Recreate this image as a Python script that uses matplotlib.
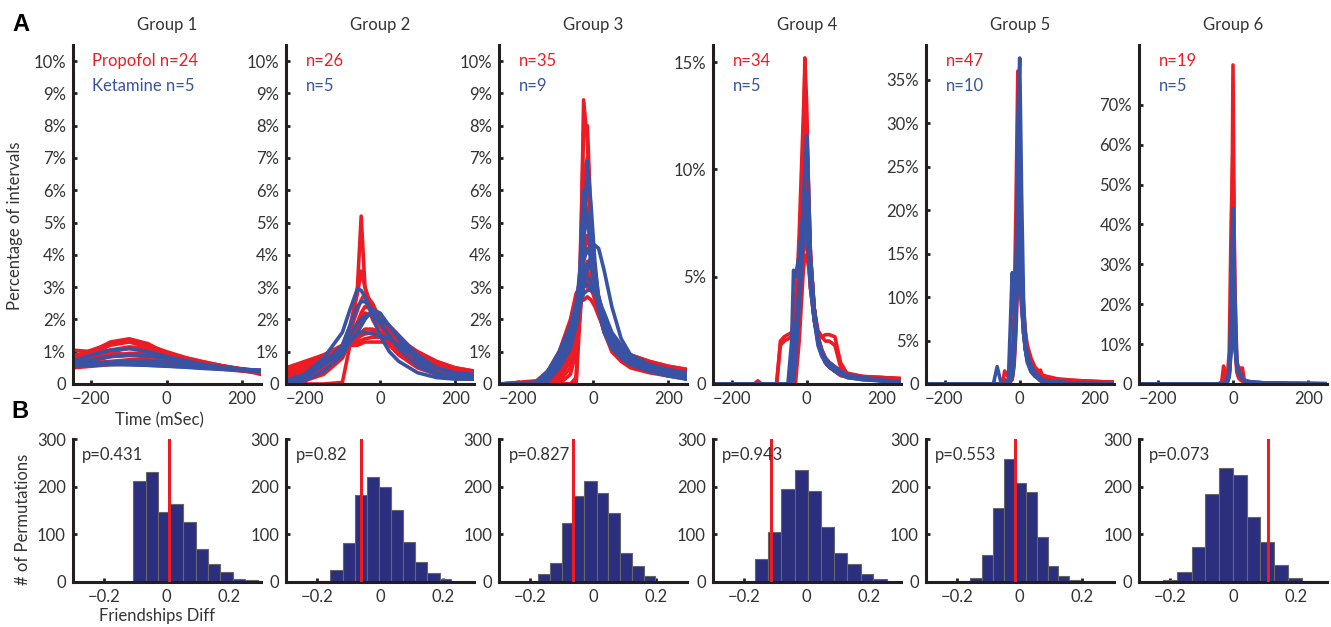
import numpy as np
import matplotlib
matplotlib.use("Agg")
import matplotlib.pyplot as plt
import matplotlib.ticker as ticker

plt.rcParams["font.family"] = ["Lato", "DejaVu Sans"]

RED = "#ED1C24"
BLUE = "#3953A4"
NAVY = "#2B2F7E"
INK = "#231F20"
GREY_TXT = "#333333"

GROUPS = ["Group 1", "Group 2", "Group 3", "Group 4", "Group 5", "Group 6"]
N_PROPOFOL = [24, 26, 35, 34, 47, 19]
N_KETAMINE = [5, 5, 9, 5, 10, 5]
Y_MAX = [10.5, 10.5, 10.5, 15.8, 39, 85]
Y_TICKS = [range(0, 11), range(0, 11), range(0, 11), [0, 5, 10, 15],
           range(0, 36, 5), range(0, 71, 10)]

# --- panel A: interval distributions (percent), time in ms ---
G1_X = [-250, -200, -150, -100, -50, 0, 50, 100, 150, 200, 250]
G1_PROPOFOL = [
    [0.75, 1.00, 1.30, 1.40, 1.25, 0.95, 0.80, 0.65, 0.55, 0.45, 0.40],
    [0.70, 0.95, 1.20, 1.30, 1.15, 0.90, 0.75, 0.62, 0.52, 0.45, 0.38],
    [1.05, 1.00, 0.95, 0.92, 0.88, 0.85, 0.75, 0.65, 0.55, 0.45, 0.35],
    [0.60, 0.80, 1.00, 1.10, 1.05, 0.90, 0.78, 0.65, 0.55, 0.45, 0.35],
    [0.55, 0.70, 0.85, 0.95, 0.95, 0.88, 0.78, 0.66, 0.55, 0.45, 0.30],
    [0.80, 0.85, 0.90, 0.90, 0.88, 0.82, 0.72, 0.62, 0.52, 0.42, 0.32],
    [0.60, 0.65, 0.70, 0.75, 0.75, 0.72, 0.65, 0.58, 0.50, 0.42, 0.35],
    [0.50, 0.55, 0.60, 0.62, 0.62, 0.60, 0.56, 0.52, 0.46, 0.40, 0.35],
    [0.90, 0.95, 1.05, 1.15, 1.10, 0.95, 0.80, 0.68, 0.56, 0.46, 0.38],
    [0.85, 1.05, 1.25, 1.35, 1.20, 1.00, 0.82, 0.68, 0.56, 0.47, 0.40],
    [0.65, 0.75, 0.85, 0.88, 0.85, 0.80, 0.72, 0.62, 0.52, 0.43, 0.36],
]
G1_KETAMINE = [
    [0.70, 0.90, 1.05, 1.10, 1.00, 0.85, 0.72, 0.60, 0.52, 0.45, 0.40],
    [0.65, 0.75, 0.85, 0.90, 0.88, 0.80, 0.70, 0.60, 0.52, 0.46, 0.42],
    [0.60, 0.65, 0.68, 0.70, 0.70, 0.68, 0.62, 0.56, 0.50, 0.45, 0.42],
    [0.62, 0.63, 0.62, 0.60, 0.58, 0.56, 0.53, 0.50, 0.47, 0.45, 0.43],
    [0.55, 0.58, 0.60, 0.60, 0.58, 0.55, 0.52, 0.48, 0.45, 0.42, 0.40],
]

G2_X = [-250, -200, -150, -100, -80, -60, -50, -40, -20, 0, 25, 50, 100, 150, 200, 250]
G2_PROPOFOL = [
    [0.2, 0.4, 0.7, 1.0, 1.5, 3.0, 5.2, 3.0, 2.0, 1.6, 1.2, 0.9, 0.5, 0.3, 0.2, 0.15],
    [0.3, 0.5, 0.8, 1.2, 1.8, 2.8, 3.5, 3.0, 2.3, 1.8, 1.4, 1.0, 0.6, 0.4, 0.3, 0.2],
    [0.1, 0.3, 0.6, 1.0, 1.6, 2.3, 2.6, 2.8, 2.5, 2.0, 1.5, 1.1, 0.6, 0.4, 0.3, 0.2],
    [0.0, 0.0, 0.0, 0.05, 1.2, 1.2, 1.25, 1.3, 1.3, 1.3, 1.3, 1.2, 0.9, 0.6, 0.4, 0.3],
    [0.4, 0.6, 0.9, 1.2, 1.4, 1.7, 1.9, 2.1, 2.2, 2.0, 1.7, 1.3, 0.8, 0.5, 0.35, 0.25],
    [0.3, 0.5, 0.8, 1.1, 1.3, 1.5, 1.6, 1.7, 1.7, 1.6, 1.5, 1.3, 0.9, 0.6, 0.4, 0.3],
    [0.2, 0.4, 0.7, 1.0, 1.2, 1.4, 1.5, 1.55, 1.6, 1.6, 1.5, 1.4, 1.0, 0.7, 0.5, 0.4],
    [0.0, 0.1, 0.3, 0.8, 1.3, 1.9, 2.2, 2.4, 2.3, 2.0, 1.6, 1.2, 0.7, 0.4, 0.25, 0.15],
    [0.5, 0.7, 0.9, 1.1, 1.2, 1.3, 1.35, 1.4, 1.45, 1.45, 1.4, 1.3, 1.0, 0.7, 0.5, 0.4],
    [0.1, 0.2, 0.5, 0.9, 1.3, 1.8, 2.0, 2.2, 2.1, 1.9, 1.8, 1.5, 0.9, 0.5, 0.3, 0.2],
]
G2_KETAMINE = [
    [0.05, 0.3, 0.8, 1.6, 2.3, 2.95, 2.9, 2.7, 2.1, 1.5, 1.0, 0.7, 0.35, 0.2, 0.15, 0.15],
    [0.0, 0.2, 0.6, 1.2, 1.8, 2.4, 2.55, 2.55, 2.3, 1.9, 1.5, 1.1, 0.55, 0.3, 0.2, 0.15],
    [0.1, 0.3, 0.7, 1.1, 1.5, 1.9, 2.0, 2.1, 2.2, 2.0, 1.8, 1.5, 0.9, 0.5, 0.3, 0.2],
    [0.1, 0.3, 0.6, 1.0, 1.3, 1.55, 1.6, 1.6, 1.55, 1.5, 1.4, 1.2, 0.8, 0.5, 0.35, 0.3],
    [0.0, 0.1, 0.4, 0.9, 1.3, 1.6, 1.8, 2.0, 2.3, 2.2, 1.8, 1.4, 0.7, 0.35, 0.2, 0.2],
]

G3_X = [-250, -150, -120, -90, -60, -45, -35, -25, -15, -5, 5, 15, 30, 50, 75, 100, 150, 200, 250]
G3_PROPOFOL = [
    [0, 0, 0, 0, 0, 0, 2.0, 8.8, 7.5, 4.5, 3.0, 2.2, 1.6, 1.1, 0.8, 0.6, 0.4, 0.3, 0.2],
    [0, 0, 0.1, 0.4, 1.0, 1.8, 3.5, 7.8, 8.0, 5.0, 3.2, 2.3, 1.6, 1.1, 0.8, 0.6, 0.4, 0.3, 0.2],
    [0, 0.05, 0.3, 0.8, 1.8, 2.6, 3.2, 3.4, 3.4, 3.2, 2.8, 2.3, 1.7, 1.2, 0.9, 0.7, 0.5, 0.4, 0.3],
    [0, 0, 0, 0, 0, 0, 2.6, 2.6, 2.7, 2.6, 2.4, 2.1, 1.7, 1.3, 1.0, 0.8, 0.5, 0.35, 0.25],
    [0, 0.1, 0.4, 1.0, 2.0, 2.8, 3.0, 3.1, 3.0, 2.9, 2.7, 2.4, 1.9, 1.4, 1.0, 0.8, 0.6, 0.5, 0.4],
    [0, 0, 0.1, 0.3, 0.9, 1.6, 2.5, 4.0, 4.6, 4.0, 3.2, 2.5, 1.8, 1.2, 0.9, 0.7, 0.5, 0.4, 0.3],
    [0, 0, 0, 0.1, 0.5, 1.2, 2.0, 3.4, 3.8, 3.5, 3.0, 2.5, 1.9, 1.4, 1.1, 0.9, 0.6, 0.45, 0.35],
    [0, 0, 0, 0, 0, 0.2, 2.8, 3.3, 3.2, 3.0, 2.6, 2.2, 1.6, 1.0, 0.7, 0.5, 0.35, 0.25, 0.2],
    [0, 0, 0, 0.2, 0.7, 1.5, 2.4, 5.5, 6.2, 5.0, 3.5, 2.5, 1.7, 1.1, 0.8, 0.6, 0.4, 0.3, 0.2],
    [0, 0, 0.05, 0.3, 1.0, 1.8, 2.6, 3.0, 3.2, 3.2, 3.0, 2.7, 2.1, 1.5, 1.1, 0.9, 0.7, 0.55, 0.45],
    [0, 0, 0.2, 0.7, 1.5, 2.4, 3.3, 3.6, 3.5, 3.2, 2.8, 2.4, 1.9, 1.4, 1.1, 0.9, 0.7, 0.55, 0.45],
    [0, 0, 0, 0, 0.3, 1.0, 2.2, 6.5, 7.0, 4.8, 3.3, 2.4, 1.7, 1.2, 1.0, 0.8, 0.6, 0.45, 0.35],
]
G3_KETAMINE = [
    [0, 0, 0.1, 0.5, 1.2, 1.8, 2.5, 4.0, 6.9, 5.5, 3.8, 2.6, 1.8, 1.2, 0.9, 0.7, 0.4, 0.25, 0.15],
    [0, 0, 0.2, 0.6, 1.4, 2.3, 3.5, 6.0, 5.2, 4.0, 3.0, 2.3, 1.6, 1.1, 0.8, 0.6, 0.4, 0.25, 0.15],
    [0, 0.02, 0.3, 0.8, 1.5, 2.2, 3.2, 4.6, 5.2, 4.6, 3.6, 2.7, 1.9, 1.3, 0.9, 0.7, 0.45, 0.3, 0.2],
    [0, 0.05, 0.4, 0.9, 1.6, 2.3, 2.9, 3.4, 3.7, 3.6, 3.2, 2.7, 2.0, 1.4, 1.0, 0.8, 0.5, 0.35, 0.25],
    [0, 0.05, 0.4, 1.0, 1.8, 2.5, 3.0, 3.3, 3.3, 3.2, 3.0, 2.6, 2.0, 1.5, 1.1, 0.8, 0.5, 0.3, 0.2],
    [0, 0, 0.2, 0.6, 1.2, 1.8, 2.4, 3.0, 3.6, 4.0, 4.3, 4.2, 3.5, 2.4, 1.4, 0.9, 0.5, 0.3, 0.2],
    [0, 0.03, 0.3, 0.7, 1.3, 1.9, 2.4, 2.8, 2.9, 2.9, 2.8, 2.6, 2.2, 1.6, 1.2, 0.9, 0.6, 0.4, 0.3],
    [0, 0, 0.2, 0.6, 1.3, 2.0, 2.6, 3.0, 3.1, 3.0, 2.8, 2.5, 2.0, 1.5, 1.1, 0.9, 0.6, 0.45, 0.35],
    [0, 0, 0.1, 0.5, 1.1, 1.9, 2.8, 3.8, 4.2, 3.9, 3.3, 2.6, 1.9, 1.3, 1.0, 0.8, 0.5, 0.35, 0.25],
]

G4_X = [-250, -140, -130, -120, -80, -70, -60, -50, -40, -35, -30, -20, -10, -5, 0,
        5, 10, 20, 30, 40, 50, 60, 75, 90, 110, 150, 200, 250]
G4_PROPOFOL = [
    [0, 0, 0, 0, 0, 0, 0, 0, 0, 0.5, 1.5, 4, 9, 15.2, 13, 9, 6, 3.5, 2, 1.5, 1.0, 0.8, 0.6, 0.4, 0.35, 0.3, 0.25, 0.2],
    [0, 0, 0.15, 0, 0, 2.0, 2.2, 2.3, 2.4, 3, 4, 6, 9, 11, 10, 8, 6, 3.5, 2.2, 1.6, 1.2, 0.9, 0.7, 0.5, 0.4, 0.3, 0.25, 0.2],
    [0, 0, 0, 0, 0, 0, 0, 0, 0, 0.3, 1, 3, 7, 10, 9, 7, 5, 3, 2.2, 2.2, 2.3, 2.3, 2.2, 1.0, 0.4, 0.3, 0.25, 0.2],
    [0, 0, 0, 0, 0, 0, 0, 0, 0.2, 1, 2.5, 5, 8, 9, 8.5, 7, 5.5, 3.5, 2.2, 1.6, 1.2, 1.0, 0.8, 0.6, 0.5, 0.35, 0.3, 0.25],
    [0, 0, 0, 0, 0, 0, 0, 0, 0, 0, 0.5, 3, 6, 7, 6.5, 5.5, 4.5, 3.0, 2.0, 1.4, 1.0, 0.8, 0.6, 0.5, 0.4, 0.3, 0.25, 0.2],
    [0, 0, 0, 0, 0, 0, 0, 0, 0, 0.5, 2, 5, 10, 13, 12, 9, 6, 3.5, 2, 1.4, 1.0, 0.8, 0.6, 0.4, 0.3, 0.25, 0.2, 0.2],
    [0, 0, 0, 0, 0, 1.8, 2.0, 2.1, 2.2, 2.6, 3.5, 5, 7, 8, 7.5, 6, 4.5, 3, 2, 1.5, 1.1, 0.9, 0.7, 0.5, 0.4, 0.3, 0.3, 0.25],
    [0, 0, 0, 0, 0, 0, 0, 0, 0, 0, 0, 2, 5, 6, 6, 5.5, 5, 3.5, 2.5, 2.2, 2.0, 2.0, 1.8, 0.8, 0.4, 0.3, 0.25, 0.2],
    [0, 0, 0, 0, 0, 0, 0, 0, 0, 0.8, 3, 7, 12, 14.5, 12, 8, 5.5, 3.2, 2, 1.5, 1.2, 1.0, 0.8, 0.6, 0.45, 0.35, 0.3, 0.25],
]
G4_KETAMINE = [
    [0, 0, 0, 0, 0, 0, 0, 0, 0, 0.3, 1.5, 4, 8, 10, 11.6, 9, 6, 3.5, 2, 1.4, 1.0, 0.8, 0.6, 0.45, 0.35, 0.25, 0.15, 0.1],
    [0, 0, 0, 0, 0, 0, 0, 0, 2, 5.3, 5.0, 6, 8, 9, 8.5, 7, 5.5, 3.2, 2.0, 1.4, 1.0, 0.8, 0.6, 0.45, 0.3, 0.2, 0.15, 0.1],
    [0, 0, 0, 0, 0, 0, 0, 0, 0, 0.5, 2, 4, 7, 8.5, 8, 7, 5.5, 3.5, 2.2, 1.5, 1.1, 0.9, 0.7, 0.5, 0.35, 0.25, 0.15, 0.1],
    [0, 0, 0, 0, 0, 0, 0, 0, 0.5, 1.8, 2.5, 4.5, 7, 7.8, 7.5, 6.5, 5, 3, 1.8, 1.3, 1.0, 0.8, 0.6, 0.45, 0.3, 0.2, 0.15, 0.1],
    [0, 0, 0, 0, 0, 0, 0, 0, 0, 0.2, 1, 3.5, 6.5, 8, 7.5, 6, 4.5, 3, 2, 1.5, 1.2, 1.0, 0.8, 0.6, 0.4, 0.3, 0.2, 0.1],
]

G5_X = [-250, -70, -60, -50, -45, -40, -30, -20, -15, -10, -5, 0, 5, 10, 15, 20,
        30, 40, 50, 55, 60, 80, 100, 150, 200, 250]
G5_PROPOFOL = [
    [0, 0, 0, 0, 0.2, 1.5, 0.8, 2.5, 8, 20, 36, 22, 14, 8, 5, 3.5, 2.0, 1.3, 0.9, 1.6, 1.0, 0.6, 0.4, 0.3, 0.2, 0.1],
    [0, 0, 0, 0, 0, 0, 0.2, 1, 3, 8, 18, 20, 15, 9, 6, 4, 2.5, 1.5, 1.0, 0.8, 0.7, 0.5, 0.4, 0.3, 0.25, 0.2],
    [0, 0, 0, 0, 0, 0, 0.3, 1.5, 4, 10, 15, 14, 10, 7, 5, 3.5, 2.2, 1.5, 1.1, 0.9, 0.8, 0.6, 0.5, 0.4, 0.3, 0.2],
    [0, 0, 0, 0, 0, 0, 0, 0.5, 2, 6, 12, 13, 11, 8, 6, 4.5, 3, 2, 1.5, 1.2, 1.0, 0.8, 0.6, 0.4, 0.3, 0.2],
    [0, 0, 0, 0, 0, 0.5, 0.3, 1, 3, 9, 22, 25, 12, 6, 4, 3, 2, 1.3, 1.0, 0.8, 0.7, 0.5, 0.4, 0.3, 0.2, 0.15],
]
G5_KETAMINE = [
    [0, 0, 0, 0, 0, 0, 0.2, 1, 4, 10, 30, 37.5, 22, 10, 5, 3, 1.6, 1.0, 0.6, 0.4, 0.3, 0.2, 0.15, 0.1, 0.05, 0],
    [0, 0, 0, 0, 0, 0, 0.5, 12.8, 8, 12, 20, 22, 14, 8, 5, 3, 1.8, 1.1, 0.7, 0.5, 0.4, 0.3, 0.2, 0.1, 0.05, 0],
    [0, 0, 2.0, 0.2, 0, 0, 0.3, 2, 6, 12, 18, 16, 10, 6, 4, 2.8, 1.6, 1.0, 0.6, 0.4, 0.3, 0.2, 0.15, 0.1, 0.05, 0],
    [0, 0, 0, 0, 0, 0, 0.1, 1, 4, 9, 14, 15, 11, 7, 4.5, 3, 1.8, 1.1, 0.7, 0.5, 0.4, 0.3, 0.2, 0.1, 0.05, 0],
    [0, 0, 0, 0, 0, 0, 0.2, 1.5, 5, 11, 15, 14, 9, 6, 4, 2.8, 1.8, 1.2, 0.8, 0.6, 0.4, 0.3, 0.2, 0.1, 0.05, 0],
    [0, 0, 0, 0, 0, 0, 0.1, 0.8, 3, 8, 20, 24, 14, 7, 4, 2.5, 1.4, 0.9, 0.6, 0.4, 0.3, 0.2, 0.15, 0.1, 0.05, 0],
    [0, 0, 0, 0, 0, 0, 0.2, 1.2, 4, 9, 13, 13, 10, 7, 5, 3.5, 2.2, 1.4, 0.9, 0.6, 0.5, 0.3, 0.2, 0.1, 0.05, 0],
    [0, 0, 0, 0, 0, 0, 0.1, 0.6, 2.5, 7, 16, 18, 12, 7, 4.5, 3, 1.8, 1.1, 0.7, 0.5, 0.4, 0.3, 0.2, 0.1, 0.05, 0],
    [0, 0, 0, 0, 0, 0, 0.3, 1.8, 5, 10, 12, 12, 9, 6.5, 4.5, 3.2, 2.0, 1.3, 0.8, 0.6, 0.4, 0.3, 0.2, 0.1, 0.05, 0],
    [0, 0, 0, 0, 0, 0, 0.2, 1, 3.5, 9, 26, 28, 15, 8, 4.5, 2.8, 1.5, 1.0, 0.6, 0.4, 0.3, 0.2, 0.15, 0.1, 0.05, 0],
]

G6_X = [-250, -40, -30, -25, -20, -15, -10, -5, 0, 5, 10, 15, 20, 25, 30, 40, 60, 100, 150, 250]
G6_PROPOFOL = [
    [0, 0, 0, 0, 0, 0.5, 2, 10, 80, 12, 3, 1.5, 1, 0.7, 0.5, 0.4, 0.3, 0.2, 0.15, 0.1],
    [0, 0, 0.5, 4.5, 1.5, 2, 8, 40, 60, 25, 6, 3, 4, 4, 1.0, 0.5, 0.3, 0.2, 0.1, 0.05],
    [0, 0, 0, 0, 0.3, 1, 3, 12, 30, 15, 5, 2.5, 1.5, 1, 0.7, 0.5, 0.3, 0.2, 0.1, 0.05],
    [0, 0, 0, 0.5, 1, 2, 4, 10, 20, 10, 4, 2, 1.2, 0.8, 0.6, 0.4, 0.3, 0.2, 0.1, 0.05],
]
G6_KETAMINE = [
    [0, 0, 0, 0, 0, 0.3, 2, 20, 44, 22, 6, 3, 2, 1.2, 0.8, 0.5, 0.3, 0.2, 0.1, 0.05],
    [0, 0, 0, 0.2, 0.5, 1, 3, 12, 30, 16, 6, 3, 2, 1.3, 0.9, 0.6, 0.4, 0.2, 0.1, 0.05],
    [0, 0, 0, 0, 0.3, 0.8, 3, 10, 22, 12, 5, 3, 2, 1.3, 0.9, 0.6, 0.4, 0.2, 0.1, 0.05],
    [0, 0, 0, 0, 0.2, 0.6, 2, 8, 16, 10, 5, 3, 2, 1.3, 0.9, 0.6, 0.4, 0.2, 0.1, 0.05],
    [0, 0, 0, 0, 0.4, 1, 3, 9, 12, 9, 5, 3.5, 2.5, 1.5, 1.0, 0.7, 0.4, 0.2, 0.1, 0.05],
]

TIME_X = [G1_X, G2_X, G3_X, G4_X, G5_X, G6_X]
PROPOFOL = [G1_PROPOFOL, G2_PROPOFOL, G3_PROPOFOL, G4_PROPOFOL, G5_PROPOFOL, G6_PROPOFOL]
KETAMINE = [G1_KETAMINE, G2_KETAMINE, G3_KETAMINE, G4_KETAMINE, G5_KETAMINE, G6_KETAMINE]

# --- panel B: permutation histograms ---
H1_EDGES = [-0.107, -0.067, -0.029, 0.012, 0.052, 0.092, 0.131, 0.171, 0.210, 0.249, 0.291]
H1_COUNTS = [211, 230, 146, 164, 125, 69, 37, 20, 6, 4]
H2_EDGES = [-0.197, -0.158, -0.119, -0.080, -0.042, -0.003, 0.035, 0.074, 0.112, 0.151, 0.190, 0.226]
H2_COUNTS = [2, 25, 81, 183, 221, 200, 150, 83, 41, 18, 5]
H3_EDGES = [-0.214, -0.177, -0.137, -0.100, -0.063, -0.028, 0.012, 0.049, 0.086, 0.126, 0.163, 0.199]
H3_COUNTS = [2, 16, 40, 124, 181, 211, 186, 144, 60, 34, 11]
H4_EDGES = [-0.205, -0.165, -0.123, -0.081, -0.038, 0.005, 0.047, 0.087, 0.129, 0.172, 0.212, 0.255]
H4_COUNTS = [1, 47, 105, 195, 235, 191, 116, 60, 37, 16, 5]
H5_EDGES = [-0.196, -0.159, -0.121, -0.084, -0.049, -0.015, 0.019, 0.054, 0.089, 0.123, 0.158, 0.193]
H5_COUNTS = [2, 7, 56, 155, 257, 207, 188, 95, 33, 11, 3]
H6_EDGES = [-0.223, -0.178, -0.132, -0.089, -0.045, -0.001, 0.044, 0.086, 0.132, 0.177, 0.221, 0.268]
H6_COUNTS = [3, 20, 72, 185, 240, 224, 135, 84, 35, 7, 1]

HIST_EDGES = [H1_EDGES, H2_EDGES, H3_EDGES, H4_EDGES, H5_EDGES, H6_EDGES]
HIST_COUNTS = [H1_COUNTS, H2_COUNTS, H3_COUNTS, H4_COUNTS, H5_COUNTS, H6_COUNTS]
OBSERVED = [0.008, -0.061, -0.065, -0.115, -0.015, 0.111]
P_VALUES = ["p=0.431", "p=0.82", "p=0.827", "p=0.943", "p=0.553", "p=0.073"]


def style_axes(ax):
    for side in ("top", "right"):
        ax.spines[side].set_visible(False)
    for side in ("left", "bottom"):
        ax.spines[side].set_linewidth(2.2)
        ax.spines[side].set_color(INK)
    ax.tick_params(direction="in", length=3, width=2, color=INK,
                   labelsize=12, labelcolor=GREY_TXT, pad=5)


def pct(v, _pos):
    return "0" if v == 0 else f"{v:g}%"


def plain(v, _pos):
    s = f"{v:g}"
    return s.replace("-", "\u2212")


W, H = 1331, 627
fig = plt.figure(figsize=(W / 100, H / 100), dpi=100)

lefts = [72.7, 286, 499, 712.7, 925.7, 1139]
ax_w = 188

for i in range(6):
    # ---- top row ----
    ax = fig.add_axes([lefts[i] / W, 1 - 384 / H, ax_w / W, 339 / H])
    style_axes(ax)
    for curve in PROPOFOL[i]:
        ax.plot(TIME_X[i], curve, color=RED, lw=2.6, solid_joinstyle="round")
    for curve in KETAMINE[i]:
        ax.plot(TIME_X[i], curve, color=BLUE, lw=2.6, solid_joinstyle="round")
    ax.set_xlim(-250, 250)
    ax.set_ylim(0, Y_MAX[i])
    ax.set_xticks([-200, 0, 200])
    ax.set_yticks(list(Y_TICKS[i]))
    ax.xaxis.set_major_formatter(ticker.FuncFormatter(plain))
    ax.yaxis.set_major_formatter(ticker.FuncFormatter(pct))
    ax.set_title(GROUPS[i], fontsize=12, color=GREY_TXT, pad=11)
    if i == 0:
        top_lbl, bot_lbl = f"Propofol n={N_PROPOFOL[i]}", f"Ketamine n={N_KETAMINE[i]}"
    else:
        top_lbl, bot_lbl = f"n={N_PROPOFOL[i]}", f"n={N_KETAMINE[i]}"
    ax.text(0.105, 0.952, top_lbl, color=RED, fontsize=12,
            transform=ax.transAxes, va="center")
    ax.text(0.105, 0.88, bot_lbl, color=BLUE, fontsize=12,
            transform=ax.transAxes, va="center")

    # ---- bottom row ----
    bx = fig.add_axes([lefts[i] / W, 1 - 581.7 / H, ax_w / W, 142.7 / H])
    style_axes(bx)
    edges = np.array(HIST_EDGES[i])
    bx.bar(edges[:-1], HIST_COUNTS[i], width=np.diff(edges), align="edge",
           color=NAVY, edgecolor="#666666", linewidth=0.8, zorder=2)
    bx.axvline(OBSERVED[i], color=RED, lw=2.2, zorder=3)
    bx.set_xlim(-0.3, 0.3)
    bx.set_ylim(0, 300)
    bx.set_xticks([-0.2, 0, 0.2])
    bx.set_yticks([0, 100, 200, 300])
    bx.xaxis.set_major_formatter(ticker.FuncFormatter(plain))
    bx.text(0.05, 0.888, P_VALUES[i], fontsize=12, color=GREY_TXT,
            transform=bx.transAxes, va="center")

fig.text(15.5 / W, 1 - 226 / H, "Percentage of intervals", rotation=90,
         ha="center", va="center", fontsize=12, color=GREY_TXT)
fig.text(159 / W, 1 - 420 / H, "Time (mSec)", ha="center", va="center",
         fontsize=12, color=GREY_TXT)
fig.text(23 / W, 1 - 519 / H, "# of Permutations", rotation=90,
         ha="center", va="center", fontsize=12, color=GREY_TXT)
fig.text(157 / W, 1 - 616 / H, "Friendships Diff", ha="center", va="center",
         fontsize=12, color=GREY_TXT)

fig.text(21 / W, 1 - 24.5 / H, "A", ha="center", va="center", fontsize=17,
         fontweight="bold", family=["Liberation Sans", "DejaVu Sans"], color="black")
fig.text(20 / W, 1 - 411 / H, "B", ha="center", va="center", fontsize=17,
         fontweight="bold", family=["Liberation Sans", "DejaVu Sans"], color="black")

fig.savefig("out.png", dpi=100)
